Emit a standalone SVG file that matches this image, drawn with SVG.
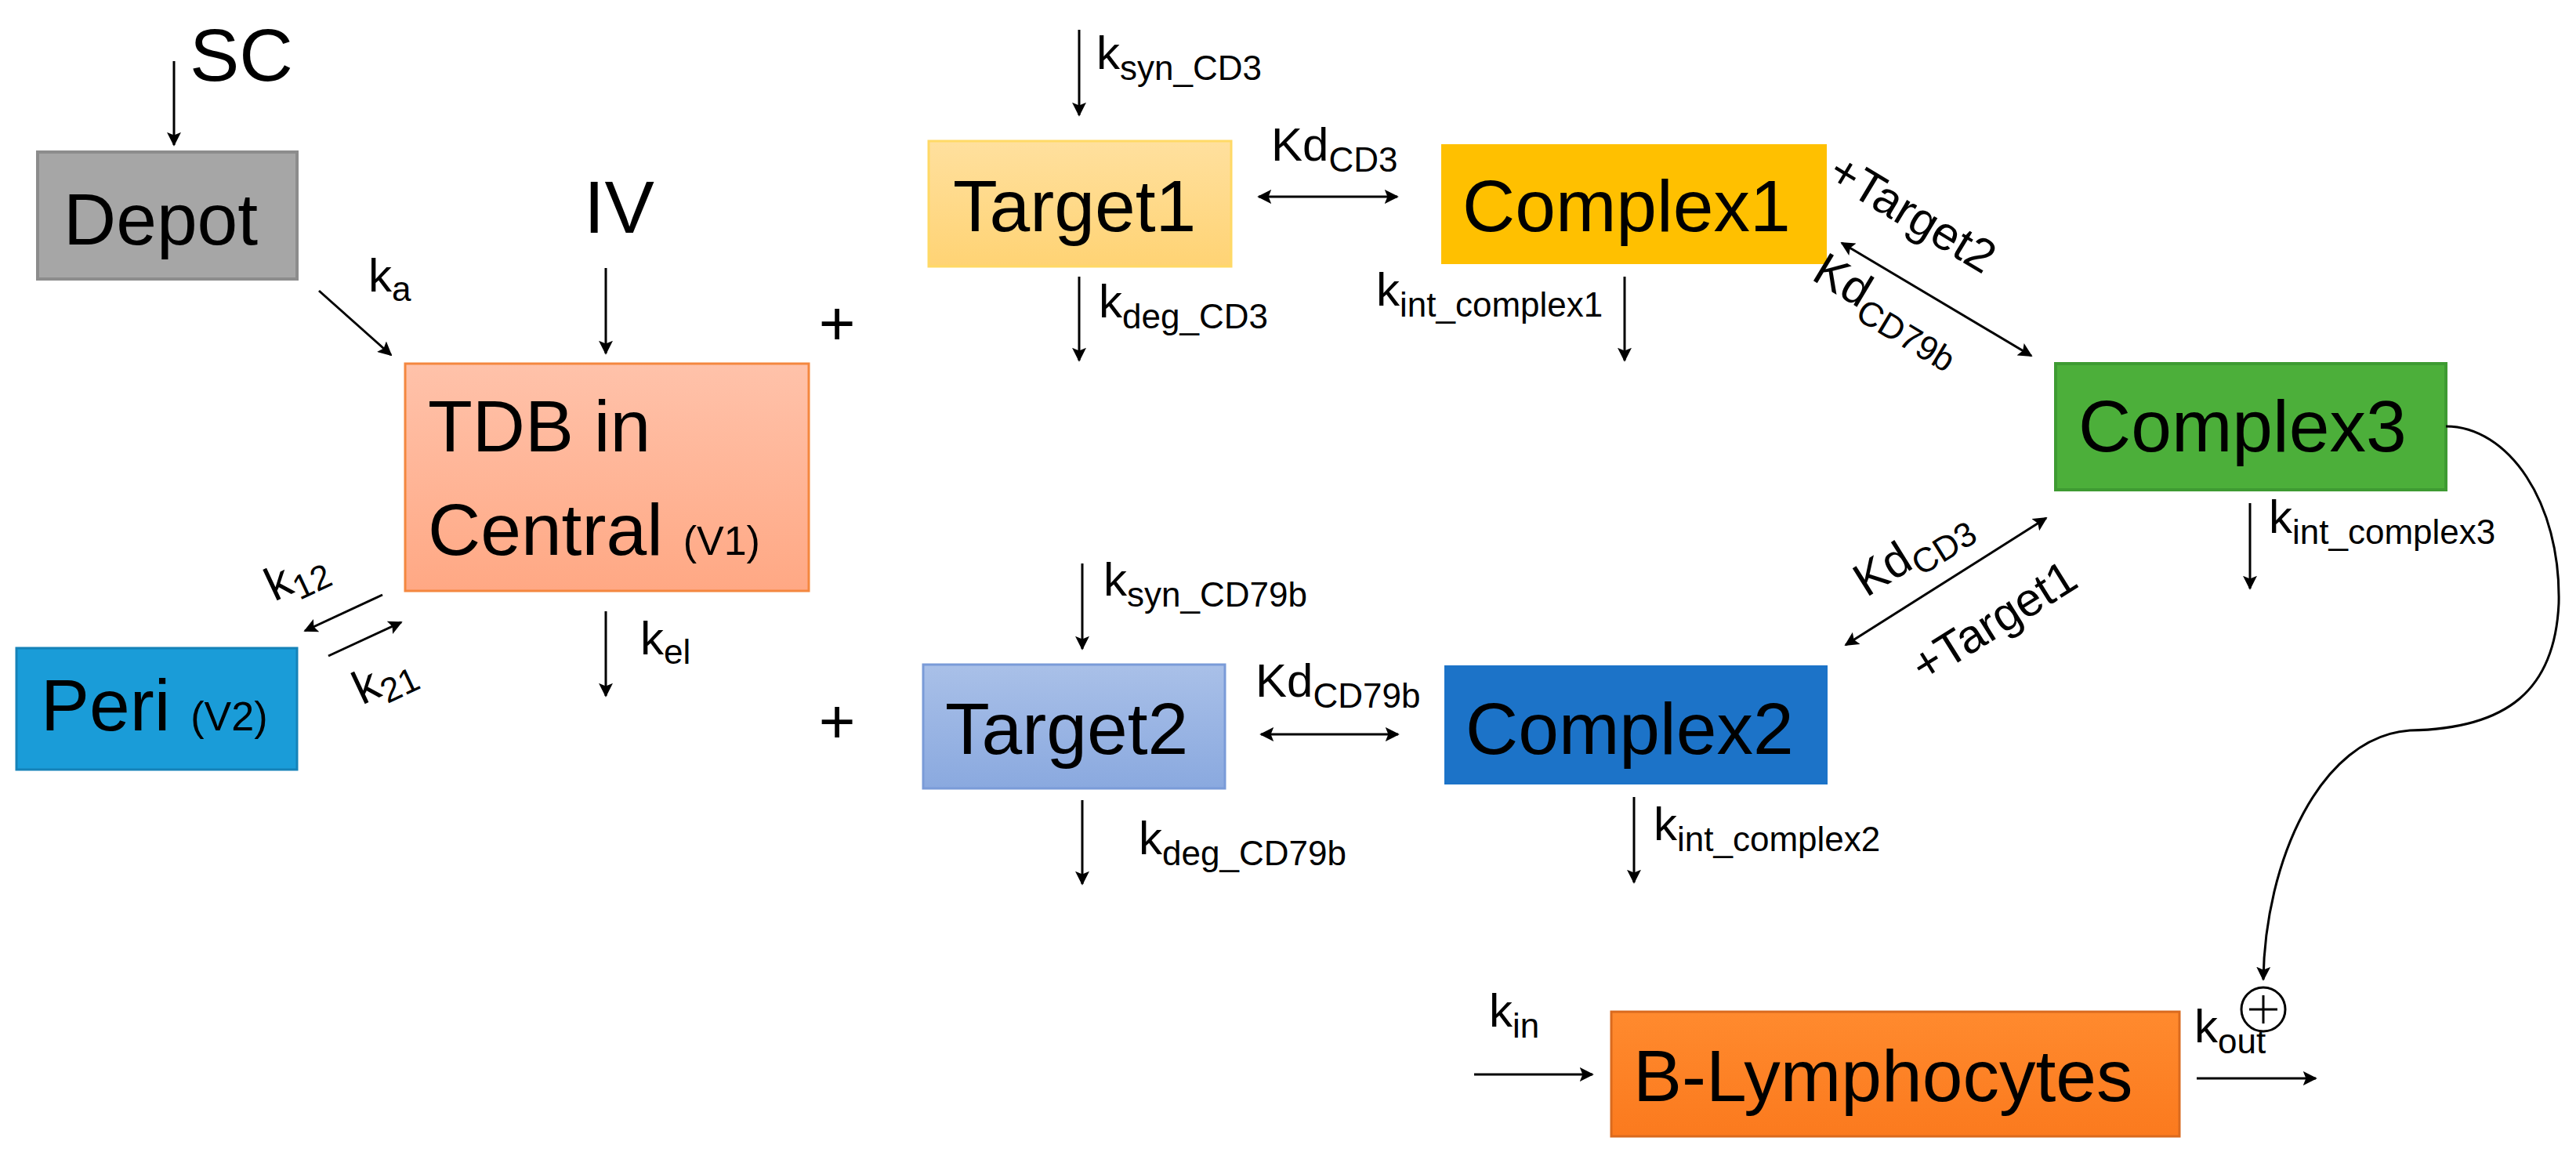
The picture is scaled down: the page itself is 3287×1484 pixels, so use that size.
<svg xmlns="http://www.w3.org/2000/svg" width="3287" height="1484" viewBox="0 0 3287 1484">
<defs>
<marker id="ah" viewBox="0 0 10 10" refX="9" refY="5" markerWidth="6" markerHeight="6" orient="auto-start-reverse" markerUnits="strokeWidth"><path d="M0,0 L10,5 L0,10 L2,5 z" fill="#000"/></marker>
<linearGradient id="gTdb" x1="0" y1="0" x2="0" y2="1"><stop offset="0" stop-color="#FFC2AA"/><stop offset="1" stop-color="#FFA884"/></linearGradient>
<linearGradient id="gT1" x1="0" y1="0" x2="0" y2="1"><stop offset="0" stop-color="#FFE09E"/><stop offset="1" stop-color="#FFD374"/></linearGradient>
<linearGradient id="gT2" x1="0" y1="0" x2="0" y2="1"><stop offset="0" stop-color="#A9C0E8"/><stop offset="1" stop-color="#8AA9DF"/></linearGradient>
<linearGradient id="gB" x1="0" y1="0" x2="0" y2="1"><stop offset="0" stop-color="#FF8A2E"/><stop offset="1" stop-color="#FB7A1E"/></linearGradient>
</defs>
<style>
text{font-family:"Liberation Sans",Arial,sans-serif;fill:#000}
.big{font-size:93px}
.lbl{font-size:60px}
.sub{font-size:44px}
.ar{stroke:#000;stroke-width:3;fill:none;marker-end:url(#ah)}
.dbl{stroke:#000;stroke-width:3;fill:none;marker-end:url(#ah);marker-start:url(#ah)}
</style>
<rect width="3287" height="1484" fill="#fff"/>
<g id="depot"><rect x="48" y="194" width="331" height="162" fill="#A6A6A6" stroke="#8C8C8C" stroke-width="4"/><text class="big" x="81" y="312">Depot</text></g>
<g id="central"><rect x="517" y="464" width="515" height="290" fill="url(#gTdb)" stroke="#F4873F" stroke-width="3"/><text class="big" x="546" y="576">TDB in</text><text class="big" x="546" y="708">Central <tspan font-size="52">(V1)</tspan></text></g>
<g id="peri"><rect x="21" y="827" width="358" height="155" fill="#1A9CD8" stroke="#1582B8" stroke-width="3"/><text class="big" x="52" y="932">Peri <tspan font-size="52">(V2)</tspan></text></g>
<g id="target1"><rect x="1185" y="180" width="386" height="160" fill="url(#gT1)" stroke="#FFD966" stroke-width="3"/><text class="big" x="1216" y="295">Target1</text></g>
<g id="complex1"><rect x="1839" y="184" width="492" height="153" fill="#FFC000"/><text class="big" x="1866" y="295">Complex1</text></g>
<g id="target2"><rect x="1178" y="848" width="385" height="158" fill="url(#gT2)" stroke="#7A9BD8" stroke-width="3"/><text class="big" x="1206" y="962">Target2</text></g>
<g id="complex2"><rect x="1843" y="849" width="489" height="152" fill="#1C73C8"/><text class="big" x="1870" y="962">Complex2</text></g>
<g id="complex3"><rect x="2623" y="464" width="498" height="161" fill="#4CAF3A" stroke="#3E9B32" stroke-width="4"/><text class="big" x="2652" y="576">Complex3</text></g>
<g id="blymph"><rect x="2056" y="1291" width="725" height="159" fill="url(#gB)" stroke="#DA6A1E" stroke-width="3"/><text class="big" x="2084" y="1405">B-Lymphocytes</text></g>
<g id="labels">
<text x="242" y="103" font-size="95">SC</text>
<text x="745" y="297" font-size="95">IV</text>
<text x="1068" y="440" font-size="80" text-anchor="middle">+</text>
<text x="1068" y="948" font-size="80" text-anchor="middle">+</text>
<text class="lbl" x="470" y="372">k<tspan class="sub" dy="12">a</tspan></text>
<text class="lbl" x="817" y="835">k<tspan class="sub" dy="12">el</tspan></text>
<text class="lbl" transform="translate(350,768) rotate(-25)">k<tspan class="sub" dy="12">12</tspan></text>
<text class="lbl" transform="translate(462,900) rotate(-25)">k<tspan class="sub" dy="12">21</tspan></text>
<text class="lbl" x="1399" y="88">k<tspan class="sub" dy="14">syn_CD3</tspan></text>
<text class="lbl" x="1402" y="405">k<tspan class="sub" dy="14">deg_CD3</tspan></text>
<text class="lbl" x="1622" y="205">Kd<tspan class="sub" dy="14">CD3</tspan></text>
<text class="lbl" x="1756" y="390">k<tspan class="sub" dy="14">int_complex1</tspan></text>
<text class="lbl" x="1408" y="760">k<tspan class="sub" dy="14">syn_CD79b</tspan></text>
<text class="lbl" x="1602" y="889">Kd<tspan class="sub" dy="14">CD79b</tspan></text>
<text class="lbl" x="1453" y="1090">k<tspan class="sub" dy="14">deg_CD79b</tspan></text>
<text class="lbl" x="2110" y="1072">k<tspan class="sub" dy="14">int_complex2</tspan></text>
<text class="lbl" x="2895" y="680">k<tspan class="sub" dy="14">int_complex3</tspan></text>
<text class="lbl" transform="translate(2430,290) rotate(31)" text-anchor="middle" font-size="54">+Target2</text>
<text class="lbl" transform="translate(2400,410) rotate(31)" text-anchor="middle">Kd<tspan class="sub" dy="14">CD79b</tspan></text>
<text class="lbl" transform="translate(2450,720) rotate(-32)" text-anchor="middle">Kd<tspan class="sub" dy="14">CD3</tspan></text>
<text class="lbl" transform="translate(2555,810) rotate(-32)" text-anchor="middle" font-size="54">+Target1</text>
<text class="lbl" x="1900" y="1310">k<tspan class="sub" dy="14">in</tspan></text>
<text class="lbl" x="2800" y="1330">k<tspan class="sub" dy="14">out</tspan></text>
</g>
<g id="connectors">
<line class="ar" x1="222" y1="78" x2="222" y2="185"/>
<line class="ar" x1="407" y1="371" x2="499" y2="453"/>
<line class="ar" x1="773" y1="342" x2="773" y2="451"/>
<line class="ar" x1="773" y1="780" x2="773" y2="888"/>
<line class="ar" x1="488" y1="759" x2="389" y2="805"/>
<line class="ar" x1="419" y1="837" x2="512" y2="794"/>
<line class="ar" x1="1377" y1="38" x2="1377" y2="147"/>
<line class="ar" x1="1377" y1="353" x2="1377" y2="460"/>
<line class="dbl" x1="1606" y1="251" x2="1783" y2="251"/>
<line class="ar" x1="2073" y1="353" x2="2073" y2="460"/>
<line class="ar" x1="1381" y1="719" x2="1381" y2="828"/>
<line class="dbl" x1="1609" y1="937" x2="1784" y2="937"/>
<line class="ar" x1="1381" y1="1021" x2="1381" y2="1128"/>
<line class="ar" x1="2085" y1="1017" x2="2085" y2="1126"/>
<line class="dbl" x1="2350" y1="310" x2="2592" y2="454"/>
<line class="dbl" x1="2611" y1="661" x2="2355" y2="823"/>
<line class="ar" x1="2871" y1="642" x2="2871" y2="751"/>
<path class="ar" d="M3121,544 C3200,544 3268,640 3265,770 C3260,880 3200,930 3075,932 C2960,940 2890,1100 2888,1250"/>
<line class="ar" x1="1881" y1="1371" x2="2032" y2="1371"/>
<line class="ar" x1="2803" y1="1376" x2="2955" y2="1376"/>
<circle cx="2888" cy="1288" r="28" fill="#fff" stroke="#000" stroke-width="3"/>
<path d="M2888,1270 V1306 M2870,1288 H2906" stroke="#000" stroke-width="3"/>
</g>
</svg>
